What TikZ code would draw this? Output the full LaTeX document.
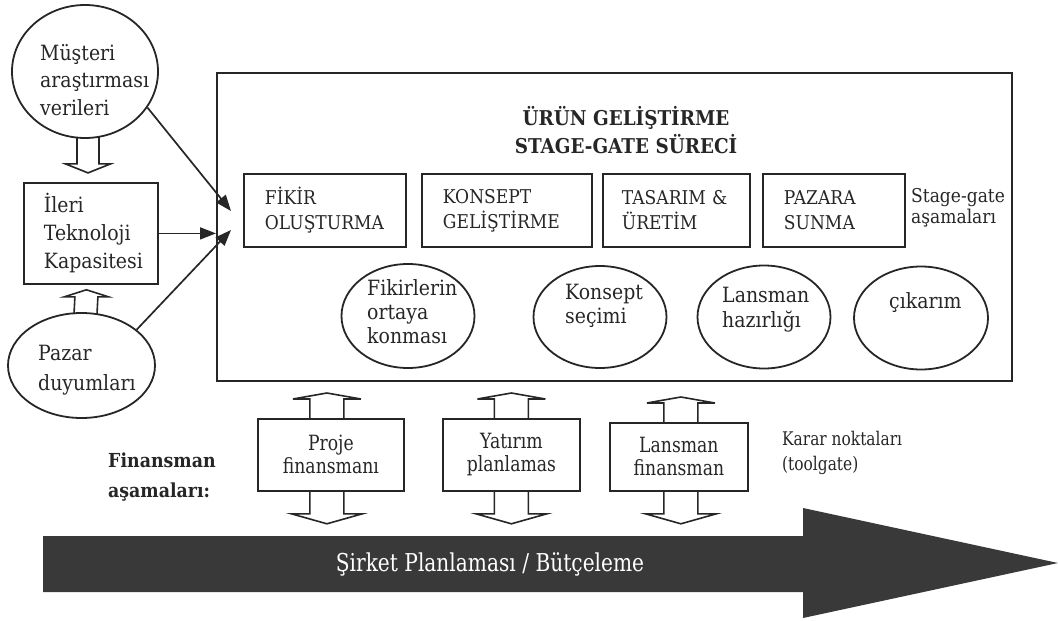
\documentclass[tikz,border=0pt]{standalone}
\usepackage{fontspec}
\setmainfont{DejaVu Serif}[FakeStretch=0.9]
\newfontfamily\narrowfont{DejaVu Serif}[FakeStretch=0.82]
\usetikzlibrary{shapes.geometric,arrows.meta,calc}
\definecolor{ink}{HTML}{262626}
\definecolor{band}{HTML}{393939}

% hollow vertical block arrow: tail, tip, shaft half width, head half width,
% signed offset of the head base from the tip
\newcommand\hollowv[5]{%
  \draw[hollow] ($(#1)+(-#3,0)$) -- ($(#2)+(-#3,#5)$) -- ($(#2)+(-#4,#5)$)
    -- (#2) -- ($(#2)+(#4,#5)$) -- ($(#2)+(#3,#5)$) -- ($(#1)+(#3,0)$);}

\begin{document}
\begin{tikzpicture}[x=1pt,y=-1pt,
  every node/.style={text=ink, inner sep=0pt},
  outline/.style={draw=ink, line width=1.8pt},
  hollow/.style={draw=ink, line width=1.6pt, line join=miter},
  connector/.style={draw=ink, line width=1.7pt, -{Triangle[length=16pt,width=12pt]}},
  bodytext/.style={align=left, font=\fontsize{21}{27.5}\selectfont},
  stagebox/.style={outline, rectangle, anchor=north west, minimum height=73pt,
    inner xsep=21pt, align=left, font=\fontsize{19}{25}\selectfont},
  fundbox/.style={outline, rectangle, anchor=north west, minimum height=72pt,
    align=center, font=\narrowfont\fontsize{21}{23}\selectfont},
  bubble/.style={outline, ellipse},
]
\useasboundingbox (0,0) rectangle (1058,621);

% ---------- main process frame ----------
\node[outline, rectangle, anchor=north west, minimum width=795pt, minimum height=308pt]
  (process) at (216,72) {};
\node[anchor=base, align=center, font=\bfseries\fontsize{20.4}{28}\selectfont]
  (title) at (626,153) {ÜRÜN GELİŞTİRME\\STAGE-GATE SÜRECİ};

% stage-gate stages
\node[stagebox, minimum width=162pt, text width=120pt] (fikir)   at (243,173) {FİKİR\\OLUŞTURMA};
\node[stagebox, minimum width=170pt, text width=128pt] (konsept) at (421,173) {KONSEPT\\GELİŞTİRME};
\node[stagebox, minimum width=147pt, text width=109pt, inner xsep=19pt] (tasarim) at (602,173) {TASARIM \&\\ÜRETİM};
\node[stagebox, minimum width=142pt, text width=100pt]  (pazara)  at (762,173) {PAZARA\\SUNMA};
\node[bodytext, anchor=base west, font=\fontsize{19}{21}\selectfont]
  (sglabel) at (911,223) {Stage-gate\\aşamaları};

% gates
\node[bubble, minimum width=133pt, minimum height=104pt] (g1) at (408,316) {};
\node[bubble, minimum width=133pt, minimum height=102pt] (g2) at (600,317) {};
\node[bubble, minimum width=133pt, minimum height=103pt] (g3) at (764,317) {};
\node[bubble, minimum width=134pt, minimum height=103pt] (g4) at (921,318) {};
\node[bodytext, anchor=base west, font=\fontsize{21}{24}\selectfont]
  (g1t) at (367,343) {Fikirlerin\\ortaya\\konması};
\node[bodytext, anchor=base west, font=\fontsize{21}{23.5}\selectfont]
  (g2t) at (565,323) {Konsept\\seçimi};
\node[bodytext, anchor=base west, font=\fontsize{21}{25}\selectfont]
  (g3t) at (722,327) {Lansman\\hazırlığı};
\node[bodytext, anchor=base west] (g4t) at (889,308) {çıkarım};

% ---------- inputs on the left ----------
\node[bubble, minimum width=146pt, minimum height=133pt] (musteri) at (85,71.5) {};
\node[bodytext, anchor=base west] (musterit) at (40,115) {Müşteri\\araştırması\\verileri};

\node[outline, rectangle, anchor=north west, minimum width=134pt, minimum height=101pt,
  inner xsep=20pt, text width=94pt, bodytext, font=\fontsize{21}{28}\selectfont]
  (ileri) at (23,182) {İleri\\Teknoloji\\Kapasitesi};

\node[bubble, minimum width=147pt, minimum height=105pt] (pazar) at (81.5,365.5) {};
\node[bodytext, anchor=base west, font=\fontsize{21}{30}\selectfont]
  (pazart) at (38,390) {Pazar\\duyumları};

\coordinate (mtail) at ($(musteri.south)+(3,-2)$);
\coordinate (mtip)  at ($(musteri.south)+(3,34)$);
\hollowv{mtail}{mtip}{11}{22.5}{-9}

\coordinate (ptail) at ($(pazar.north)+(4,2)$);
\coordinate (ptip)  at ($(ileri.south)+(-4.5,5)$);
\hollowv{ptail}{ptip}{11.5}{22}{7}

\coordinate (in1) at (231,211);
\coordinate (in3) at (231,230);
\draw[connector] (musteri.-30) -- (in1);
\draw[connector] (ileri.east) -- (ileri.east -| process.west);
\draw[connector] (pazar.33) -- (in3);

% ---------- financing toll gates ----------
\node[fundbox, minimum width=146pt] (proje)   at (257,418) {Proje\\finansmanı};
\node[fundbox, minimum width=137pt] (yatirim) at (442,418) {Yatırım\\planlamas};
\node[fundbox, minimum width=138pt, minimum height=68pt] (lansman) at (609,422) {Lansman\\finansman};

\foreach \b/\dx in {proje/-4, yatirim/0, lansman/2}{
  \coordinate (\b-ut) at ($(\b.north)+(\dx,0)$);
  \coordinate (\b-up) at ($(\b.north)+(\dx,-25)$);
  \hollowv{\b-ut}{\b-up}{17}{34}{6}
  \coordinate (\b-dt) at ($(\b.south)+(\dx,0)$);
  \coordinate (\b-dn) at ($(\b.south)+(\dx,32)$);
  \hollowv{\b-dt}{\b-dn}{17}{35.5}{-10}
}

\node[anchor=base west, align=left, font=\bfseries\fontsize{19.3}{30}\selectfont]
  (finlabel) at (108,497) {Finansman\\aşamaları:};
\node[anchor=base west, align=left, font=\narrowfont\fontsize{18.8}{25}\selectfont]
  (karar) at (782,470) {Karar noktaları\\(toolgate)};

% ---------- corporate planning band ----------
\fill[band] (43,536) -- (803,536) -- (803,508) -- (1058,563) -- (803,618)
  -- (803,592) -- (43,592) -- cycle;
\node[anchor=base, text=white, font=\narrowfont\fontsize{24.6}{25}\selectfont]
  (plan) at (490,571) {Şirket Planlaması / Bütçeleme};
\end{tikzpicture}
\end{document}
